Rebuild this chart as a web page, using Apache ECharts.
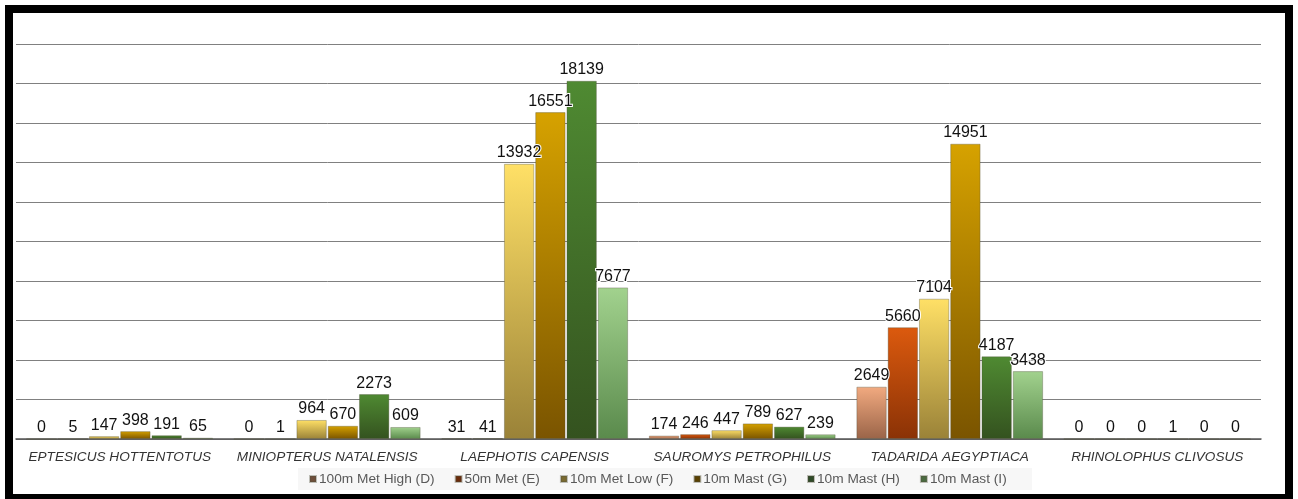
<!DOCTYPE html>
<html><head><meta charset="utf-8">
<script src="https://cdn.jsdelivr.net/npm/echarts@6/dist/echarts.min.js"></script>
<style>html,body{margin:0;padding:0;background:#fff}#c{width:1298px;height:499px}</style>
</head><body><div id="c"></div>
<script>
const categories = ['EPTESICUS HOTTENTOTUS','MINIOPTERUS NATALENSIS','LAEPHOTIS CAPENSIS','SAUROMYS PETROPHILUS','TADARIDA AEGYPTIACA','RHINOLOPHUS CLIVOSUS'];
const seriesNames = ['100m Met High (D)','50m Met (E)','10m Met Low (F)','10m Mast (G)','10m Mast (H)','10m Mast (I)'];
const valuesD = [0, 0, 31, 174, 2649, 0];
const valuesE = [5, 1, 41, 246, 5660, 0];
const valuesF = [147, 964, 13932, 447, 7104, 0];
const valuesG = [398, 670, 16551, 789, 14951, 1];
const valuesH = [191, 2273, 18139, 627, 4187, 0];
const valuesI = [65, 609, 7677, 239, 3438, 0];
const allValues = [valuesD, valuesE, valuesF, valuesG, valuesH, valuesI];

const topColors = ['#f2aa80','#dc5a0e','#ffe066','#d6a200','#4f8a32','#a2d28e'];
const botColors = ['#9a6448','#8a3206','#9a8238','#7a5400','#34521f','#5a8a4c'];
const legendColors = ['#6e4e3a','#6a2a0a','#7a6a30','#5a4000','#2e4a28','#4a6a40'];

const chart = echarts.init(document.getElementById('c'));
chart.setOption({
  animation: false,
  textStyle: { fontFamily: 'Liberation Sans, Arial, sans-serif' },
  graphic: [{
    type: 'rect', silent: true, z: 100,
    shape: { x: 9, y: 9, width: 1280, height: 489 },
    style: { fill: 'none', stroke: '#000', lineWidth: 8 }
  }, {
    type: 'rect', silent: true, z: -1,
    shape: { x: 298, y: 468, width: 734, height: 22 },
    style: { fill: '#f7f7f7' }
  }],
  grid: { left: 16, right: 37, top: 44, bottom: 60, containLabel: false },
  legend: {
    bottom: 8, left: 304, itemWidth: 6, itemHeight: 6, itemGap: 20,
    icon: 'rect',
    textStyle: { fontSize: 13.7, color: '#595959', padding: [0, 0, 0, -2] },
    data: seriesNames.map((n, i) => ({ name: n, itemStyle: { color: legendColors[i] } }))
  },
  xAxis: {
    type: 'category', data: categories,
    axisLine: { lineStyle: { color: '#555', width: 1.5 } },
    axisTick: { show: false },
    axisLabel: { interval: 0, fontStyle: 'italic', fontSize: 13.6, color: '#333', margin: 11 }
  },
  yAxis: {
    type: 'value', min: 0, max: 20000, interval: 2000,
    axisLabel: { show: false }, axisLine: { show: false }, axisTick: { show: false },
    splitLine: { lineStyle: { color: '#808080', width: 1 } }
  },
  series: allValues.map((vals, i) => ({
    name: seriesNames[i], type: 'bar', data: vals,
    barGap: '3%', barCategoryGap: '10%',
    itemStyle: {
      color: new echarts.graphic.LinearGradient(0, 0, 0, 1, [
        { offset: 0, color: topColors[i] }, { offset: 1, color: botColors[i] }
      ]),
      borderColor: 'rgba(80,80,60,0.35)', borderWidth: 1
    },
    label: {
      show: true, position: 'top', distance: 3, fontSize: 16, color: '#111',
      textBorderColor: '#fff', textBorderWidth: 2
    }
  }))
});
</script></body></html>
